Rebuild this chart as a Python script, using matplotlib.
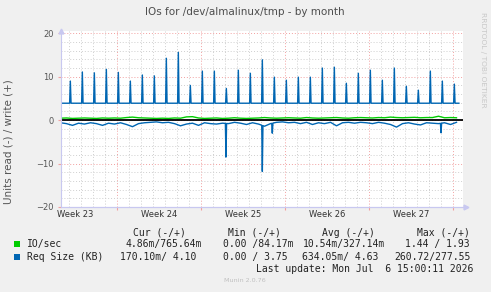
import numpy as np
import matplotlib
matplotlib.use("Agg")
import matplotlib.pyplot as plt
from matplotlib import ticker

W, H = 491, 292

# x is in days from the left edge of the graph
week_names = ["Week 23", "Week 24", "Week 25", "Week 26", "Week 27"]
week_starts = [4.7, 11.7, 18.7, 25.7, 32.7]

# Req Size write (+): flat base with a daily peak
write_base = 3.9
write_peak_days = np.arange(0.82, 33.0, 1.0)
write_peaks = [9.0, 11.1, 10.9, 11.7, 11.0, 9.0, 10.4, 10.2, 14.25, 15.6, 8.0,
               11.3, 11.3, 7.3, 11.5, 10.8, 13.9, 9.9, 9.2, 9.9, 9.9, 12.0,
               12.2, 8.5, 10.8, 11.5, 9.2, 12.0, 7.8, 6.9, 11.3, 9.0, 8.3]

# Req Size read (-), sampled every half day, plus the big dips
read_vals = [-0.6, -0.8, -1.2, -0.7, -0.9, -0.6, -0.8, -1.2, -0.7, -0.9,
             -0.6, -1.0, -1.5, -0.8, -0.6, -0.5, -0.4, -0.6, -0.5, -0.8,
             -1.3, -0.9, -0.7, -1.2, -0.6, -0.8, -0.9, -0.7, -0.8, -0.5,
             -0.7, -1.0, -0.6, -0.9, -1.4, -0.8, -0.5, -0.4, -0.6, -0.5,
             -0.8, -0.5, -1.0, -0.6, -0.8, -0.5, -1.3, -0.6, -0.5, -0.7,
             -0.5, -0.6, -0.8, -0.5, -0.7, -1.0, -1.6, -0.8, -0.6, -0.9,
             -1.1, -0.6, -0.7, -0.8, -0.6, -1.0, -0.5]
read_dip_days = [13.79, 16.82, 17.65, 31.71]
read_dips = [-8.5, -11.8, -3.0, -2.9]

# IO/sec write (+), every half day
io_write = [0.45, 0.5, 0.4, 0.45, 0.5, 0.45, 0.4, 0.5, 0.45, 0.5,
            0.45, 0.6, 0.7, 0.55, 0.5, 0.45, 0.4, 0.45, 0.4, 0.5,
            0.45, 0.75, 0.8, 0.5, 0.4, 0.45, 0.5, 0.4, 0.45, 0.55,
            0.45, 0.4, 0.45, 0.5, 0.6, 0.5, 0.45, 0.5, 0.55, 0.5,
            0.45, 0.6, 0.5, 0.45, 0.5, 0.55, 0.6, 0.5, 0.45, 0.55,
            0.6, 0.55, 0.5, 0.6, 0.55, 0.7, 0.6, 0.55, 0.6, 0.65,
            0.55, 0.6, 0.6, 0.9, 0.55, 0.6, 0.55]

# legend: (read, write) for Cur, Min, Avg, Max
legend_heads = ["Cur (-/+)", "Min (-/+)", "Avg (-/+)", "Max (-/+)"]
legend_names = ["IO/sec", "Req Size (KB)"]
legend_colors = ["#00CC00", "#0066B3"]
io_stats = ["4.86m/765.64m", "0.00 /84.17m", "10.54m/327.14m", "1.44 / 1.93"]
req_stats = ["170.10m/ 4.10", "0.00 / 3.75", "634.05m/ 4.63", "260.72/277.55"]

head_x = [133.3, 227.7, 322.0, 416.7]
io_end_x = [202.3, 293.3, 385.0, 470.0]
req_end_x = [196.7, 287.3, 378.8, 470.3]


def peaks_line(base, days, heights, hw=0.06):
    xs, ys = [0.0], [base]
    for d, h in zip(days, heights):
        xs += [d - hw, d, d + hw]
        ys += [base, h, base]
    xs.append(33.2)
    ys.append(base)
    return xs, ys


def dips_line(days, vals, dip_days, dips, hw=0.05):
    xs = list(days)
    ys = list(vals)
    for d, v in zip(dip_days, dips):
        xs += [d - hw, d, d + hw]
        ys += [np.interp(d - hw, days, vals), v, np.interp(d + hw, days, vals)]
    order = np.argsort(xs)
    return np.array(xs)[order], np.array(ys)[order]


half_days = np.arange(len(read_vals)) * 0.5

fig = plt.figure(figsize=(W / 100, H / 100), dpi=100, facecolor="#F0F0F0")
ax = fig.add_axes([60.5 / W, (H - 207) / H, 402 / W, 176 / H])
ax.set_facecolor("white")
ax.set_xlim(0, 33.5)
ax.set_ylim(-20, 20.53)

ax.xaxis.set_major_locator(ticker.FixedLocator(week_starts))
ax.xaxis.set_minor_locator(ticker.FixedLocator(np.arange(0.7, 33.5, 1.0)))
ax.yaxis.set_major_locator(ticker.FixedLocator([-20, -10, 0, 10, 20]))
ax.yaxis.set_minor_locator(ticker.FixedLocator(np.arange(-18, 20, 2)))
ax.grid(which="minor", color="#CFCFCF", linestyle=(0, (1, 2)), linewidth=0.7)
ax.grid(which="major", color="#F2A0A0", linestyle=(0, (1, 2)), linewidth=0.7)
ax.set_axisbelow(True)
ax.set_xticklabels([])
ax.tick_params(axis="x", which="major", length=2, color="#F2A0A0")
ax.tick_params(axis="x", which="minor", length=0)
ax.tick_params(axis="y", which="major", length=2, color="#F2A0A0", pad=3,
               labelsize=6, labelcolor="#555555")
ax.tick_params(axis="y", which="minor", length=0)
for s in ["top", "right"]:
    ax.spines[s].set_visible(False)
for s in ["left", "bottom"]:
    ax.spines[s].set_color("#C8C8F0")
    ax.spines[s].set_linewidth(0.8)
ax.plot([0], [20.53], marker="^", color="#C8C8F0", markersize=3.5, clip_on=False)
ax.plot([33.75], [-20], marker=">", color="#C8C8F0", markersize=3.5, clip_on=False)
ax.plot([0, 33.75], [-20, -20], color="#C8C8F0", lw=0.8, clip_on=False)

for name, st in zip(week_names, week_starts):
    ax.text(st - 3.5, -20.6, name, ha="center", va="top", fontsize=6,
            color="#333333")

ax.plot(half_days, io_write, color="#00CC00", lw=1.0)
xs, ys = peaks_line(write_base, write_peak_days, write_peaks)
ax.plot(xs, ys, color="#0066B3", lw=1.0)
xs, ys = dips_line(half_days, read_vals, read_dip_days, read_dips)
ax.plot(xs, ys, color="#0066B3", lw=1.0)
ax.axhline(0, color="black", lw=1.3)

fig.text(245 / W, 1 - 12 / H, "IOs for /dev/almalinux/tmp - by month",
         ha="center", va="center", fontsize=7.5, color="#4D4D4D")
fig.text(9 / W, 1 - 142 / H, "Units read (-) / write (+)", rotation=90,
         ha="center", va="center", fontsize=7.5, color="#555555")
fig.text(483 / W, 1 - 60 / H, "RRDTOOL / TOBI OETIKER", rotation=270,
         ha="center", va="center", fontsize=5.4, color="#C8C8C8")

mono = "DejaVu Sans Mono"
for hx, h in zip(head_x, legend_heads):
    fig.text(hx / W, 1 - 232.5 / H, h, family=mono, fontsize=7, va="center",
             color="#222222")
rows = [(io_stats, io_end_x), (req_stats, req_end_x)]
for i, (label, col, (stats, ends)) in enumerate(zip(legend_names, legend_colors, rows)):
    y = 244.2 + i * 12.5
    fig.patches.append(plt.Rectangle((14 / W, 1 - (y + 3) / H), 6 / W, 6 / H,
                                     transform=fig.transFigure, facecolor=col,
                                     edgecolor="none"))
    fig.text(26.7 / W, 1 - y / H, label, family=mono, fontsize=7, va="center",
             color="#222222")
    for xe, s in zip(ends, stats):
        fig.text(xe / W, 1 - y / H, s, family=mono, fontsize=7, va="center",
                 ha="right", color="#222222")
fig.text(255.7 / W, 1 - 269 / H, "Last update: Mon Jul  6 15:00:11 2026",
         family=mono, fontsize=7, va="center", color="#222222")
fig.text(245 / W, 1 - 280.5 / H, "Munin 2.0.76", ha="center", va="center",
         fontsize=4.6, color="#C0C0C0")

fig.savefig("out.png", dpi=100, facecolor=fig.get_facecolor())
